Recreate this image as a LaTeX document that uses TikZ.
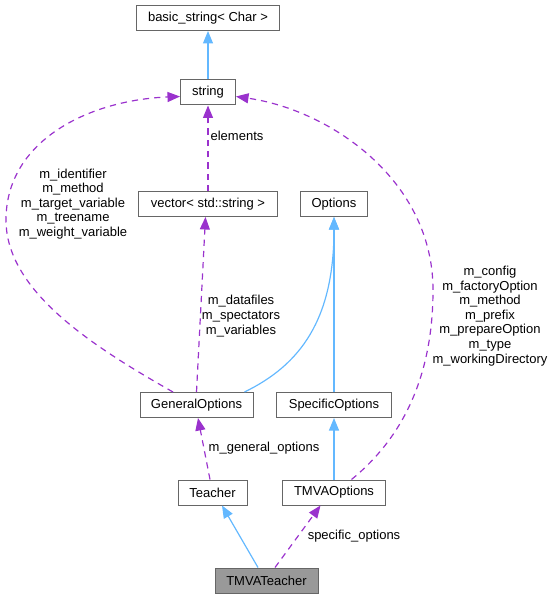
\documentclass[tikz,border=0pt]{standalone}
\usepackage{fontspec}
\setmainfont{Liberation Sans}
\usetikzlibrary{arrows.meta,calc}
\definecolor{EdgeBlue}{HTML}{63B8FF}
\definecolor{EdgePurple}{HTML}{9A32CD}
\definecolor{BoxGray}{HTML}{666666}
\definecolor{FocusGray}{HTML}{999999}

\tikzset{
  classbox/.style={draw=BoxGray, fill=white, line width=0.8pt,
    minimum height=20pt, inner sep=2pt, font=\fontsize{10.4}{12}\selectfont},
  focusbox/.style={classbox, fill=FocusGray},
  inherits/.style={draw=EdgeBlue, line width=0.95pt,
    -{Triangle[length=10pt,width=8pt]}},
  uses/.style={draw=EdgePurple, line width=0.95pt, dash pattern=on 5pt off 4pt,
    -{Triangle[length=10pt,width=8pt]}},
  edgelabel/.style={align=center, inner sep=0pt,
    font=\fontsize{10.4}{11.7}\selectfont}
}

\begin{document}
\begin{tikzpicture}[x=0.8pt, y=-0.8pt]
  \useasboundingbox (0,0) rectangle (554,599);

  % classes
  \node[classbox, minimum width=114.4pt] (basicstr) at (208,18) {basic\_string< Char >};
  \node[classbox, minimum width=44pt] (string) at (208,92.5) {string};
  \node[classbox, minimum width=111.2pt] (vector) at (208,204) {vector< std::string >};
  \node[classbox, minimum width=53.6pt] (options) at (334,204) {Options};
  \node[classbox, minimum width=90.4pt] (genopts) at (196.5,405) {GeneralOptions};
  \node[classbox, minimum width=92pt] (specopts) at (334,405) {SpecificOptions};
  \node[classbox, minimum width=55.2pt] (teacher) at (212.5,492.5) {Teacher};
  \node[classbox, minimum width=82.4pt] (tmvaopts) at (334,492.5) {TMVAOptions};
  \node[focusbox, minimum width=82.4pt] (tmvateacher) at (266.5,580.5) {TMVATeacher};

  % inheritance
  \draw[inherits] (string) -- (basicstr);
  \draw[inherits] (specopts) -- (options);
  \draw[inherits] (tmvaopts) -- (specopts);
  \draw[inherits] ($(genopts.north)+(48,0)$) .. controls (300,365) and (334,320) .. (options.south);
  \draw[inherits] ($(tmvateacher.north)+(-8.5,0)$) -- ($(teacher.south)+(9.5,0)$);

  % usage
  \draw[uses] (vector) -- (string);
  \draw[uses] (genopts.north) -- ($(vector.south)+(-2.5,0)$);
  \draw[uses] ($(genopts.north)+(-23.5,0)$) .. controls (90,345) and (6,290) .. (6,220)
    .. controls (6,140) and (90,100) .. ($(string.west)+(0,4)$);
  \draw[uses] ($(tmvaopts.north)+(17.5,0)$) .. controls (400,440) and (433,380) .. (433,290)
    .. controls (433,180) and (330,110) .. ($(string.east)+(0,4)$);
  \draw[uses] ($(teacher.north)+(-2.5,0)$) -- ($(genopts.south)+(1.5,0)$);
  \draw[uses] ($(tmvateacher.north)+(8.5,0)$) -- ($(tmvaopts.south)+(-13.5,0)$);

  % labels
  \node[edgelabel] (lblelements) at (237,136) {elements};
  \node[edgelabel] (lblgenstr) at (73,204)
    {m\_identifier\\m\_method\\m\_target\_variable\\m\_treename\\m\_weight\_variable};
  \node[edgelabel] (lblgenvec) at (241,316)
    {m\_datafiles\\m\_spectators\\m\_variables};
  \node[edgelabel] (lbltmvastr) at (490,316)
    {m\_config\\m\_factoryOption\\m\_method\\m\_prefix\\m\_prepareOption\\m\_type\\m\_workingDirectory};
  \node[edgelabel] (lblgeneral) at (264,448) {m\_general\_options};
  \node[edgelabel] (lblspecific) at (354,536) {specific\_options};
\end{tikzpicture}
\end{document}
